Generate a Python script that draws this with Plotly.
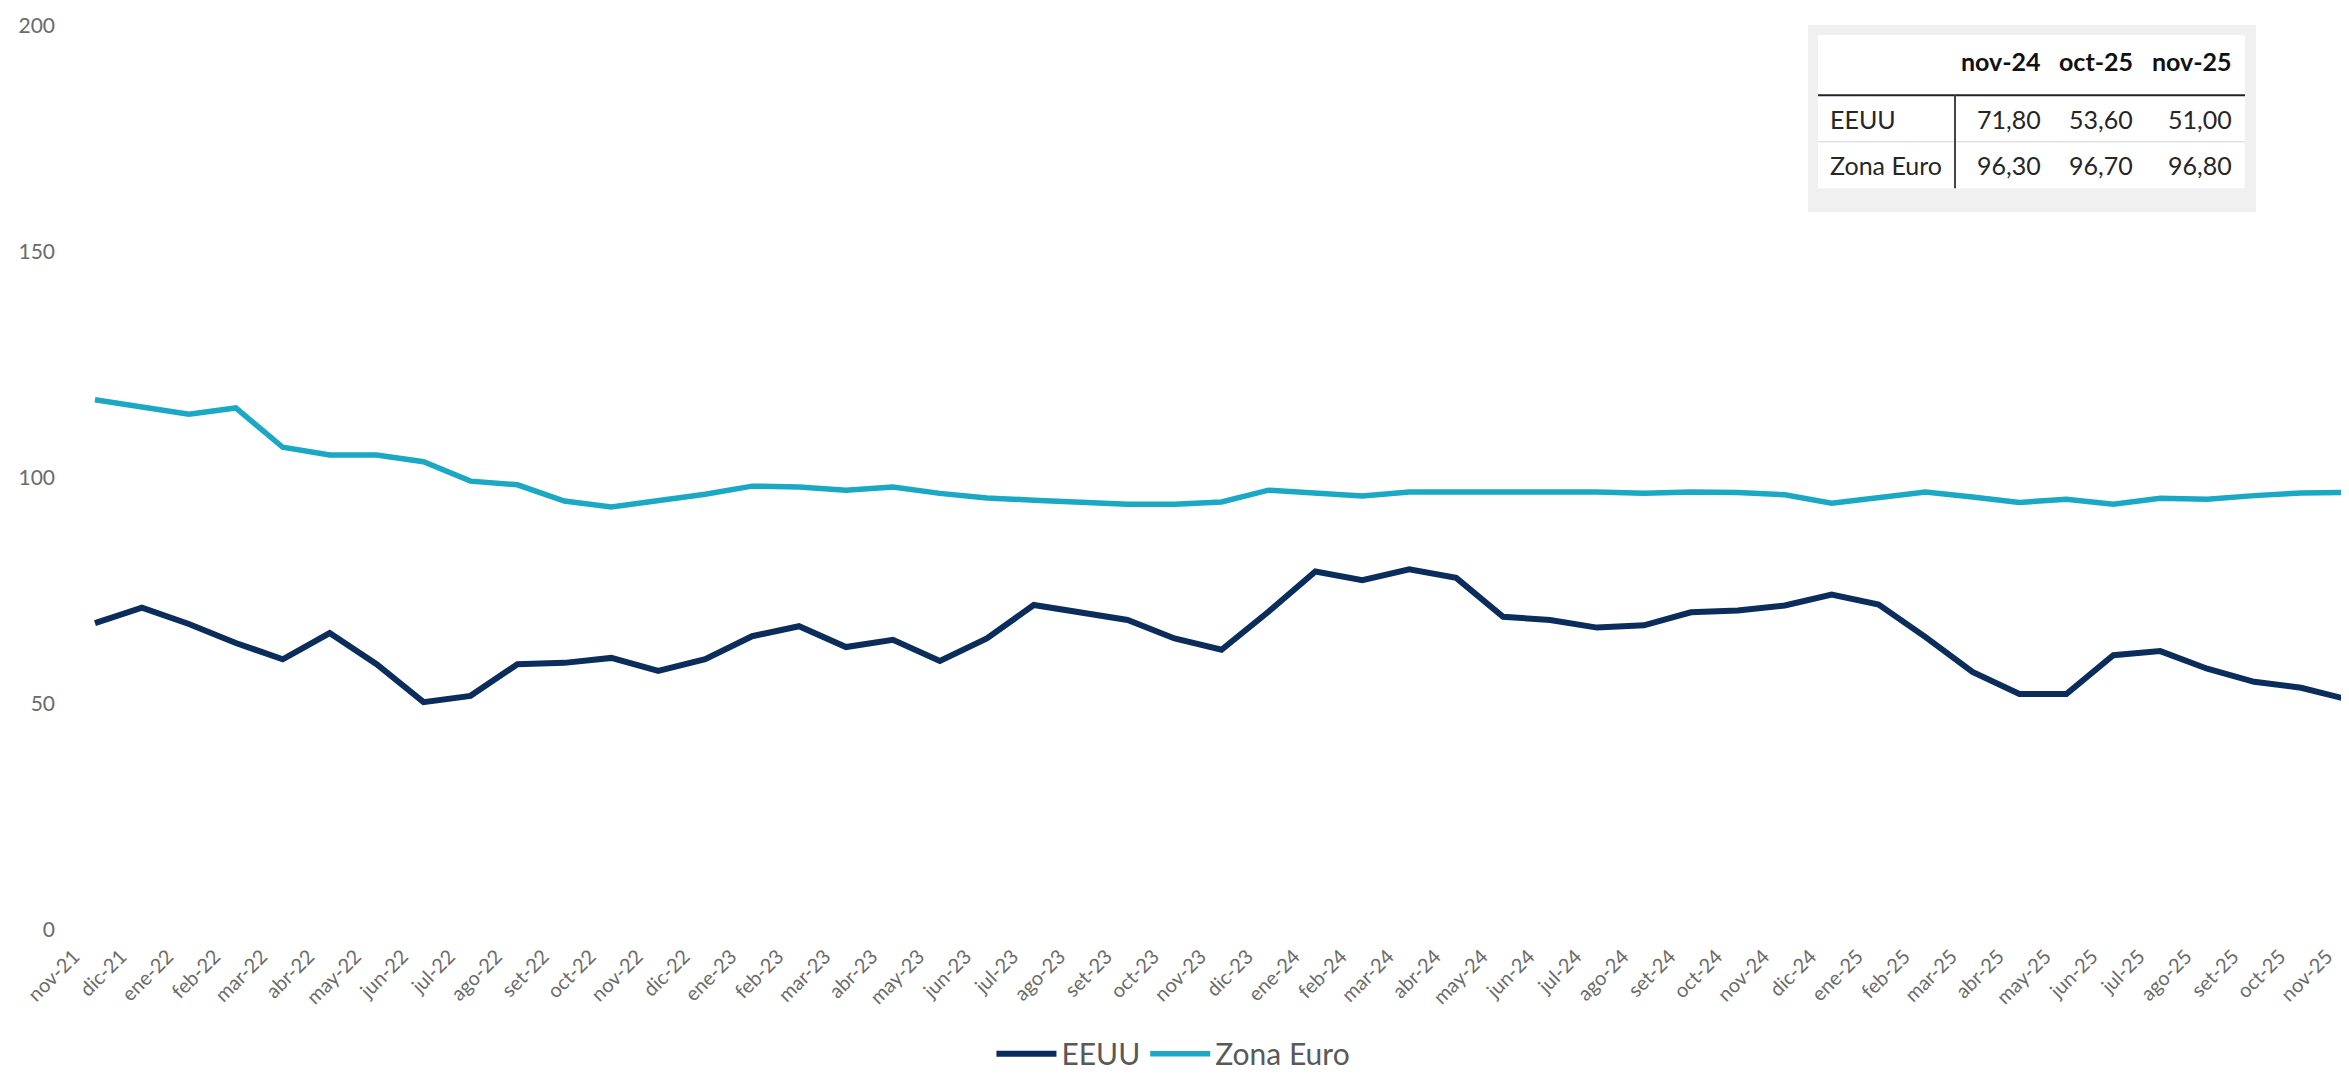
import plotly.graph_objects as go

# ---------------- data ----------------
months = ["nov-21","dic-21","ene-22","feb-22","mar-22","abr-22","may-22","jun-22","jul-22","ago-22",
          "set-22","oct-22","nov-22","dic-22","ene-23","feb-23","mar-23","abr-23","may-23","jun-23",
          "jul-23","ago-23","set-23","oct-23","nov-23","dic-23","ene-24","feb-24","mar-24","abr-24",
          "may-24","jun-24","jul-24","ago-24","set-24","oct-24","nov-24","dic-24","ene-25","feb-25",
          "mar-25","abr-25","may-25","jun-25","jul-25","ago-25","set-25","oct-25","nov-25"]

eeuu = [67.9, 71.3, 67.7, 63.5, 59.9, 65.7, 58.8, 50.4, 51.8, 58.8,
        59.1, 60.2, 57.3, 59.9, 65.0, 67.2, 62.6, 64.2, 59.5, 64.5,
        71.9, 70.1, 68.6, 64.5, 62.0, 70.4, 79.3, 77.4, 79.8, 77.9,
        69.3, 68.6, 66.9, 67.4, 70.3, 70.7, 71.8, 74.2, 72.0, 64.8,
        57.1, 52.2, 52.2, 60.8, 61.7, 57.8, 54.9, 53.6, 51.0]

zona_euro = [117.3, 115.8, 114.1, 115.5, 106.8, 105.1, 105.1, 103.6, 99.3, 98.5,
             94.9, 93.6, 94.9, 96.4, 98.2, 98.0, 97.3, 98.0, 96.6, 95.6,
             95.1, 94.5, 94.2, 94.2, 94.7, 97.3, 96.7, 96.0, 96.9, 96.9,
             96.9, 97.1, 96.9, 96.6, 96.9, 96.8, 96.3, 94.4, 95.7, 96.9,
             95.8, 94.6, 95.3, 94.2, 95.5, 95.3, 96.1, 96.7, 96.8]

y_ticks = [0, 50, 100, 150, 200]

table_cols = ["nov-24", "oct-25", "nov-25"]
table_rows = ["EEUU", "Zona Euro"]
table_eeuu = [71.80, 53.60, 51.00]
table_euro = [96.30, 96.70, 96.80]

# ---------------- style ----------------
C_US = "#0b2d5b"
C_EU = "#1ba8c4"
GRAY = "#6b6b6b"
FONT = "Lato"
LABEL_SHIFT = 0.45   # rotated month labels end slightly left of their point

W, H = 2349, 1077
ML, MR, MT, MB = 60, 5, 18, 145
PW, PH = W - ML - MR, H - MT - MB


def px(x):
    return (x - ML) / PW


def py(y):
    return (H - MB - y) / PH


xs = list(range(len(months)))

fig = go.Figure()
fig.add_trace(go.Scatter(x=xs, y=eeuu, name="EEUU", mode="lines",
                         line=dict(color=C_US, width=6)))
fig.add_trace(go.Scatter(x=xs, y=zona_euro, name="Zona Euro", mode="lines",
                         line=dict(color=C_EU, width=5.5)))

# ---------------- table ----------------
shapes = []
annotations = []
shapes.append(dict(type="rect", xref="paper", yref="paper", x0=px(1800), x1=px(2248), y0=py(206), y1=py(17),
                   fillcolor="#f0f0f0", line=dict(width=0), layer="above"))
shapes.append(dict(type="rect", xref="paper", yref="paper", x0=px(1810), x1=px(2237), y0=py(182), y1=py(27),
                   fillcolor="#ffffff", line=dict(width=0), layer="above"))
shapes.append(dict(type="line", xref="paper", yref="paper", x0=px(1810), x1=px(2237), y0=py(88), y1=py(88),
                   line=dict(color="#222222", width=2), layer="above"))
shapes.append(dict(type="line", xref="paper", yref="paper", x0=px(1810), x1=px(2237), y0=py(135), y1=py(135),
                   line=dict(color="#e3e3e3", width=1.5), layer="above"))
shapes.append(dict(type="line", xref="paper", yref="paper", x0=px(1947), x1=px(1947), y0=py(88), y1=py(182),
                   line=dict(color="#444444", width=2), layer="above"))

col_right = [2035, 2127, 2226]
for cx, lab in zip(col_right, table_cols):
    annotations.append(dict(xref="paper", yref="paper", x=px(cx), y=py(53), text="<b>%s</b>" % lab,
                            showarrow=False, xanchor="right", yanchor="middle",
                            font=dict(family=FONT, size=25, color="#111111")))


def fmt(v):
    return ("%.2f" % v).replace(".", ",")


for ry, rname, vals in zip([112, 159], table_rows, [table_eeuu, table_euro]):
    annotations.append(dict(xref="paper", yref="paper", x=px(1820), y=py(ry), text=rname,
                            showarrow=False, xanchor="left", yanchor="middle",
                            font=dict(family=FONT, size=25, color="#262626")))
    for cx, v in zip(col_right, vals):
        annotations.append(dict(xref="paper", yref="paper", x=px(cx), y=py(ry), text=fmt(v),
                                showarrow=False, xanchor="right", yanchor="middle",
                                font=dict(family=FONT, size=25, color="#262626")))

fig.update_layout(
    width=W, height=H,
    margin=dict(l=ML, r=MR, t=MT, b=MB),
    paper_bgcolor="white", plot_bgcolor="white",
    font=dict(family=FONT, color=GRAY),
    showlegend=True,
    legend=dict(orientation="h", x=0.484, xanchor="center", y=py(1057), yanchor="middle",
                font=dict(family=FONT, size=30, color="#595959"), itemwidth=60, traceorder="normal"),
    shapes=shapes,
    annotations=annotations,
)
fig.update_xaxes(
    tickmode="array", tickvals=[i - LABEL_SHIFT for i in xs], ticktext=months,
    tickangle=-45, tickfont=dict(family=FONT, size=20, color=GRAY),
    range=[-0.575, 48.085], showgrid=False, zeroline=False, showline=False, ticks="",
    ticklabelstandoff=10, ticklabeloverflow="allow", automargin=False,
)
fig.update_yaxes(
    range=[0, 200], tickvals=y_ticks, tickfont=dict(family=FONT, size=21, color=GRAY),
    showgrid=False, zeroline=False, showline=False, ticks="", ticklabelstandoff=12, automargin=False,
)

fig.write_html("out.html")
